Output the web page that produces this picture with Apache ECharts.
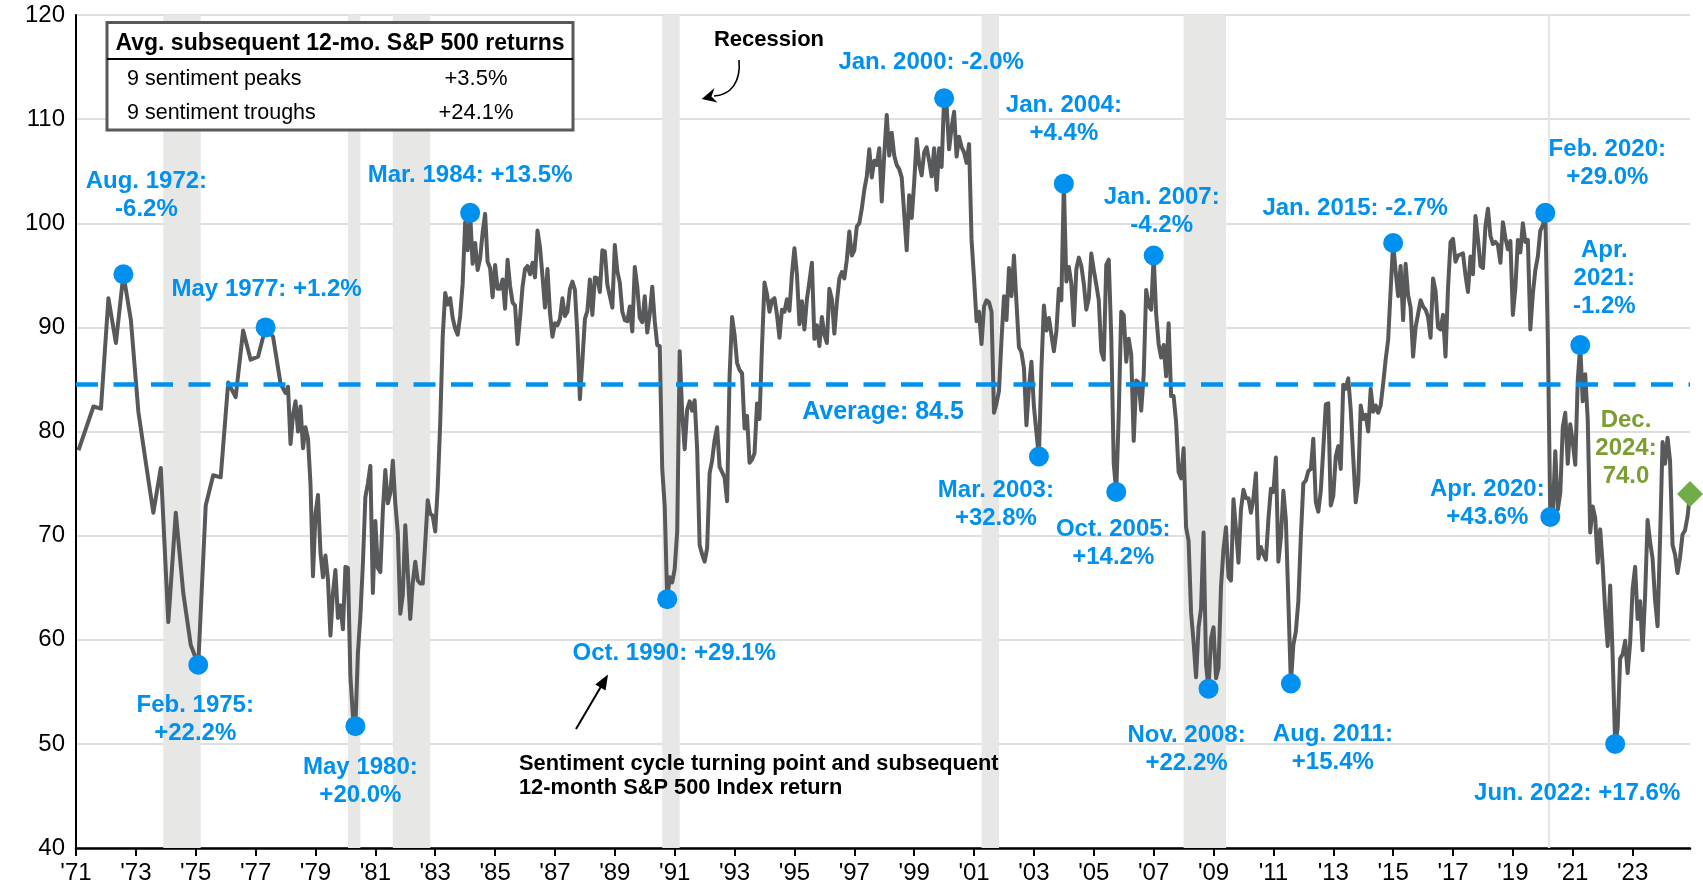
<!DOCTYPE html>
<html>
<head>
<meta charset="utf-8">
<script src="https://cdn.jsdelivr.net/npm/echarts@6/dist/echarts.min.js"></script>
<style>
html,body{margin:0;padding:0;background:#fff;}
#chart{width:1703px;height:895px;}
</style>
</head>
<body>
<div id="chart"></div>
<script>
// ---------------- DATA ----------------
const startYear = 1971;
const endYear = 2024;

// Consumer sentiment, monthly slots; before 1978 only quarterly readings
const s1971_1977 = [
  null,78.2,null,null,80.3,null,null,82.4,null,null,82.2,null,
  null,92.8,null,null,88.5,null,null,95.1,null,null,90.7,null,
  null,81.9,null,null,77.0,null,null,72.2,null,null,76.5,null,
  null,61.7,null,null,72.2,null,null,64.5,null,null,59.5,null,
  null,57.6,null,null,72.9,null,null,75.8,null,null,75.6,null,
  null,84.7,null,null,83.3,null,null,89.7,null,null,86.9,null,
  null,87.2,null,null,90.0,null,null,89.1,null,null,84.6,null
];
const s1978_1979 = [
  83.7,84.3,78.8,81.6,82.9,80.0,82.4,78.4,80.4,79.3,75.0,66.1,
  72.1,73.9,68.4,66.0,68.1,65.8,60.4,64.5,66.7,62.1,63.3,61.0
];
const s1980s = [
  67.0,66.9,56.5,52.7,51.7,58.7,62.3,67.3,73.7,75.0,76.7,64.5,
  71.4,66.9,66.5,72.4,76.3,73.1,74.1,77.2,73.1,70.3,62.5,64.3,
  71.0,66.5,62.0,65.5,67.5,65.7,65.4,65.4,69.3,73.4,72.1,71.9,
  70.4,74.6,80.8,89.1,93.3,92.2,92.8,90.9,89.9,89.3,91.1,94.2,
  100.1,97.4,101.0,96.1,98.1,95.5,96.6,99.1,100.9,96.3,95.7,92.9,
  96.0,93.7,93.7,94.6,91.8,96.5,94.0,92.4,92.1,88.4,90.9,93.9,
  95.6,95.9,95.1,96.2,94.8,99.3,97.7,94.9,91.9,95.6,91.4,89.1,
  90.4,90.2,90.8,92.8,91.1,91.5,93.7,94.4,93.6,89.3,83.1,86.8,
  90.8,91.6,94.6,91.2,94.8,94.7,93.4,97.4,97.3,94.1,93.0,91.9,
  97.9,95.4,94.3,91.5,90.7,90.6,92.0,89.6,95.8,93.9,90.9,90.5
];
const s1990s = [
  93.0,89.5,91.3,93.9,90.6,88.3,88.2,76.4,72.8,63.9,66.0,65.5,
  66.8,70.4,87.7,81.8,78.3,82.1,82.9,82.0,83.0,78.3,69.1,68.2,
  67.5,68.8,76.0,77.2,79.2,80.4,76.6,76.1,75.6,73.3,85.3,91.0,
  89.3,86.6,85.9,85.6,80.3,81.5,77.0,77.3,77.9,82.7,81.2,88.2,
  94.3,93.2,91.5,92.6,92.8,91.2,89.0,91.7,91.5,92.7,91.6,95.1,
  97.6,95.1,90.3,92.5,89.8,92.7,94.4,96.2,88.9,90.2,88.2,91.0,
  89.3,88.5,93.7,92.7,89.4,92.4,94.7,95.3,94.7,96.5,99.2,96.9,
  97.4,99.7,100.0,101.4,103.2,104.5,107.1,104.4,106.0,105.6,107.2,102.1,
  106.6,110.4,106.5,108.7,106.5,105.6,105.2,104.4,100.9,97.4,102.7,100.5,
  103.9,108.1,105.7,104.6,106.8,107.3,106.0,104.5,107.2,103.2,107.2,105.4
];
const s2000s = [
  112.0,111.3,107.1,109.2,110.7,106.4,108.3,107.3,106.8,105.8,107.6,98.4,
  94.7,90.6,91.5,88.4,92.0,92.6,92.4,91.5,81.8,82.7,83.9,88.8,
  93.0,90.7,95.7,93.0,96.9,92.4,88.1,87.6,86.1,80.6,84.2,86.7,
  82.4,79.9,77.6,86.0,92.1,89.7,90.9,89.3,87.7,89.6,93.7,92.6,
  103.8,94.4,95.8,94.2,90.2,95.6,96.7,95.9,94.2,91.7,92.8,97.1,
  95.5,94.1,92.6,87.7,86.9,96.0,96.5,89.1,76.9,74.2,81.6,91.5,
  91.2,86.7,88.9,87.4,79.1,84.9,84.7,82.0,85.4,93.6,92.1,91.7,
  96.9,91.3,88.4,87.1,88.3,85.3,90.4,83.4,83.4,80.9,76.1,75.5,
  78.4,70.8,69.5,62.6,59.8,56.4,61.2,63.0,70.3,57.6,55.3,60.1,
  61.2,56.3,57.3,65.1,68.7,70.8,66.0,65.7,73.5,70.6,67.4,72.5
];
const s2010s = [
  74.4,73.6,73.6,72.2,73.6,76.0,67.8,68.9,68.2,67.7,71.6,74.5,
  74.2,77.5,67.5,69.8,74.3,71.5,63.7,55.8,59.5,60.8,63.7,69.9,
  75.0,75.3,76.2,76.4,79.3,73.2,72.3,74.3,78.3,82.6,82.7,72.9,
  73.8,77.6,78.6,76.4,84.5,84.1,85.1,82.1,77.5,73.2,75.1,82.5,
  81.2,81.6,80.0,84.1,81.9,82.5,81.8,82.5,84.6,86.9,88.8,93.6,
  98.1,95.4,93.0,95.9,90.7,96.1,93.1,91.9,87.2,90.0,91.3,92.6,
  92.0,91.7,91.0,89.0,94.7,93.5,90.0,89.8,91.2,87.2,93.8,98.2,
  98.5,96.3,96.9,97.0,97.1,95.0,93.4,96.8,95.1,100.7,98.5,95.9,
  95.7,99.7,101.4,98.8,98.0,98.2,97.9,96.2,100.1,98.6,97.5,98.3,
  91.2,93.8,98.4,97.2,100.0,98.2,98.4,89.8,93.2,95.5,96.8,99.3
];
const s2020s = [
  99.8,101.0,89.1,71.8,72.3,78.1,72.5,74.1,80.4,81.8,76.9,80.7,
  79.0,76.8,84.9,88.3,82.9,85.5,81.2,70.3,72.8,71.7,67.4,70.6,
  67.2,62.8,59.4,65.2,58.4,50.0,51.5,58.2,58.6,59.9,56.8,59.7,
  64.9,67.0,62.0,63.7,59.0,64.2,71.5,69.4,67.8,63.8,61.3,69.7,
  79.0,76.9,79.4,77.2,69.1,68.2,66.4,67.9,70.1,70.5,71.8,74.0
];

const averageValue = 84.5;

const turningDates = ['1972-08','1975-02','1977-05','1980-05','1984-03','1990-10',
  '2000-01','2003-03','2004-01','2005-10','2007-01','2008-11','2011-08',
  '2015-01','2020-02','2020-04','2021-04','2022-06'];
const turningLabels = ['Aug. 1972:\n-6.2%','Feb. 1975:\n+22.2%','May 1977: +1.2%',
  'May 1980:\n+20.0%','Mar. 1984: +13.5%','Oct. 1990: +29.1%','Jan. 2000: -2.0%',
  'Mar. 2003:\n+32.8%','Jan. 2004:\n+4.4%','Oct. 2005:\n+14.2%','Jan. 2007:\n-4.2%',
  'Nov. 2008:\n+22.2%','Aug. 2011:\n+15.4%','Jan. 2015: -2.7%','Feb. 2020:\n+29.0%',
  'Apr. 2020:\n+43.6%','Apr.\n2021:\n-1.2%','Jun. 2022: +17.6%'];
const latestLabel = 'Dec.\n2024:\n74.0';

const recessions = [['1973-12','1975-03'],['1980-02','1980-07'],['1981-08','1982-11'],
  ['1990-08','1991-03'],['2001-04','2001-11'],['2008-01','2009-06'],['2020-03','2020-04']];

const tableHeader = 'Avg. subsequent 12-mo. S&P 500 returns';
const tableRows = [['9 sentiment peaks','+3.5%'],['9 sentiment troughs','+24.1%']];

// ---------------- LAYOUT / STYLE ----------------
const labelOffsets = [[23,-79],[-3,55],[1,-38],[5,55],[0,-37],[7,54],[-13,-36],[-43,48],
  [0,-64],[-3,51],[8,-44],[-22,61],[42,65],[-38,-35],[62,-49],[-63,-14],[24,-67],[-38,49]];
const latestOffset = [-64,-46];

const FONT = '"Liberation Sans", Arial, sans-serif';
const BLUE = '#0090F0';
const GRAY = '#58595B';

const categories = [];
for (let y = startYear; y <= endYear; y++) {
  for (let m = 1; m <= 12; m++) categories.push(y + '-' + String(m).padStart(2, '0'));
}
const sentiment = [].concat(s1971_1977, s1978_1979, s1980s, s1990s, s2000s, s2010s, s2020s);

const turningData = turningDates.map((d, i) => ({
  value: [d, sentiment[categories.indexOf(d)]],
  label: { formatter: turningLabels[i], offset: labelOffsets[i] }
}));
const lastCat = categories[categories.length - 1];
const latestData = [{ value: [lastCat, sentiment[sentiment.length - 1]],
  label: { formatter: latestLabel, offset: latestOffset } }];

const chart = echarts.init(document.getElementById('chart'), null, { renderer: 'canvas' });

function arrowHead(tip, from, len, half) {
  const dx = tip[0] - from[0], dy = tip[1] - from[1];
  const L = Math.hypot(dx, dy), ux = dx / L, uy = dy / L;
  const bx = tip[0] - ux * len, by = tip[1] - uy * len;
  return [tip, [bx - uy * half, by + ux * half], [bx + uy * half, by - ux * half]];
}
const sTip = [608, 674.5], sFrom = [576, 729];

const option = {
  animation: false,
  backgroundColor: '#fff',
  grid: { left: 76, right: 13, top: 15, bottom: 47, containLabel: false },
  xAxis: {
    type: 'category',
    data: categories,
    boundaryGap: false,
    axisLine: { show: true, lineStyle: { color: '#000', width: 2.5 } },
    axisTick: { show: true, interval: 23, length: 8, lineStyle: { color: '#000', width: 2 } },
    axisLabel: { interval: 23, margin: 13, color: '#000', fontSize: 24, fontFamily: FONT,
      formatter: v => "'" + v.slice(2, 4) },
    splitLine: { show: false }
  },
  yAxis: {
    type: 'value', min: 40, max: 120, interval: 10,
    axisLine: { show: true, lineStyle: { color: '#000', width: 2 } },
    axisTick: { show: false },
    axisLabel: { color: '#000', fontSize: 24, fontFamily: FONT, margin: 11 },
    splitLine: { show: true, lineStyle: { color: '#d4d4d4', width: 1.5 } }
  },
  series: [
    {
      type: 'line', data: [], z: 1, silent: true,
      markArea: {
        silent: true,
        itemStyle: { color: '#e7e7e5' },
        data: recessions.map(r => [{ xAxis: r[0] }, { xAxis: r[1] }])
      }
    },
    {
      type: 'line', data: sentiment, z: 3, connectNulls: true, showSymbol: false,
      symbol: 'none', silent: true,
      lineStyle: { color: GRAY, width: 4, join: 'round' }
    },
    {
      type: 'line', data: [], z: 4, silent: true,
      markLine: {
        silent: true, symbol: 'none',
        lineStyle: { color: BLUE, width: 4.5, type: [22, 15.5] },
        label: { show: true, position: 'insideMiddleBottom', distance: 15,
          formatter: 'Average: ' + averageValue.toFixed(1),
          color: BLUE, fontSize: 25, fontWeight: 'bold', fontFamily: FONT },
        data: [{ yAxis: averageValue }]
      }
    },
    {
      type: 'scatter', data: turningData, z: 5, symbol: 'circle', symbolSize: 20,
      itemStyle: { color: BLUE, opacity: 1 }, silent: true,
      label: { show: true, position: 'inside', align: 'center', verticalAlign: 'middle',
        color: BLUE, opacity: 1, fontSize: 24, fontWeight: 'bold', fontFamily: FONT, lineHeight: 28 }
    },
    {
      type: 'scatter', data: latestData, z: 5, symbol: 'diamond', symbolSize: 26,
      itemStyle: { color: '#70AD47', opacity: 1 }, silent: true,
      label: { show: true, position: 'inside', align: 'center', verticalAlign: 'middle',
        color: '#7A9E32', opacity: 1, fontSize: 24, fontWeight: 'bold', fontFamily: FONT, lineHeight: 28 }
    }
  ],
  graphic: [
    { type: 'rect', z: 100, shape: { x: 107, y: 22.5, width: 466, height: 107.5 },
      style: { fill: '#fff', stroke: '#595959', lineWidth: 3 } },
    { type: 'line', z: 101, shape: { x1: 107, y1: 59, x2: 573, y2: 59 },
      style: { stroke: '#000', lineWidth: 2 } },
    { type: 'text', z: 102, x: 340, y: 44,
      style: { text: tableHeader, font: 'bold 23px ' + FONT, fill: '#000', textAlign: 'center', textVerticalAlign: 'middle' } },
    { type: 'text', z: 102, x: 127, y: 79,
      style: { text: tableRows[0][0], font: '21.5px ' + FONT, fill: '#000', textAlign: 'left', textVerticalAlign: 'middle' } },
    { type: 'text', z: 102, x: 476, y: 79,
      style: { text: tableRows[0][1], font: '22px ' + FONT, fill: '#000', textAlign: 'center', textVerticalAlign: 'middle' } },
    { type: 'text', z: 102, x: 127, y: 113,
      style: { text: tableRows[1][0], font: '21.5px ' + FONT, fill: '#000', textAlign: 'left', textVerticalAlign: 'middle' } },
    { type: 'text', z: 102, x: 476, y: 113,
      style: { text: tableRows[1][1], font: '22px ' + FONT, fill: '#000', textAlign: 'center', textVerticalAlign: 'middle' } },
    { type: 'text', z: 102, x: 769, y: 40,
      style: { text: 'Recession', font: 'bold 22px ' + FONT, fill: '#000', textAlign: 'center', textVerticalAlign: 'middle' } },
    { type: 'bezierCurve', z: 102,
      shape: { x1: 739, y1: 60, x2: 714, y2: 96, cpx1: 741, cpy1: 82, cpx2: 731, cpy2: 95 },
      style: { stroke: '#000', lineWidth: 1.6, fill: 'none' } },
    { type: 'polygon', z: 102,
      shape: { points: [[701.7, 99], [714.5, 88], [711.5, 96.5], [717.5, 102.5]] },
      style: { fill: '#000' } },
    { type: 'line', z: 102, shape: { x1: sFrom[0], y1: sFrom[1], x2: 601, y2: 686.5 },
      style: { stroke: '#000', lineWidth: 2 } },
    { type: 'polygon', z: 102, shape: { points: arrowHead(sTip, sFrom, 15, 6) },
      style: { fill: '#000' } },
    { type: 'text', z: 102, x: 519, y: 775.5,
      style: { text: 'Sentiment cycle turning point and subsequent\n12-month S&P 500 Index return',
        font: 'bold 21.8px ' + FONT, lineHeight: 24, fill: '#000', textAlign: 'left', textVerticalAlign: 'middle' } }
  ]
};
chart.setOption(option);
</script>
</body>
</html>
